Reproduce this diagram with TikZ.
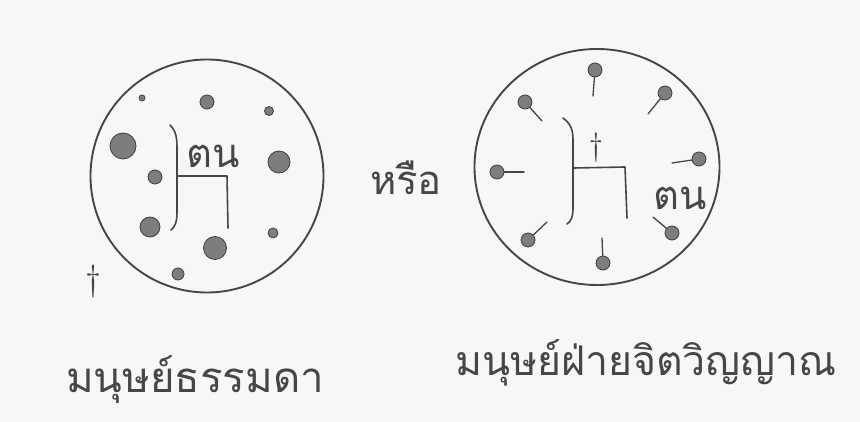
\documentclass[tikz,border=0pt]{standalone}
\usepackage{fontspec}
\usetikzlibrary{shapes.geometric}
\newfontfamily\thaifont[Script=Thai]{Loma}
\newfontfamily\dagfont{Latin Modern Roman}
\definecolor{paper}{RGB}{247,247,245}
\definecolor{ink}{RGB}{70,70,70}
\definecolor{dotfill}{RGB}{125,125,125}
\tikzset{
  ring/.style={draw=ink, line width=1.9pt},
  ball/.style={circle, draw=ink!90!black, line width=0.8pt, fill=dotfill, inner sep=0pt, minimum size=#1},
  ball/.default=12pt,
  stroke/.style={draw=ink, line width=1.6pt, line cap=round, line join=round},
  stick/.style={draw=ink, line width=1.3pt, line cap=round},
  thai/.style={font=\thaifont\fontsize{#1}{#1}\selectfont, text=ink, inner sep=0pt, anchor=base},
  dagger/.style={font=\dagfont\fontsize{#1}{#1}\selectfont, text=ink, inner sep=0pt}
}
\begin{document}
\begin{tikzpicture}[x=1pt,y=-1pt]
\path[fill=paper] (0,0) rectangle (860,422);
\useasboundingbox (0,0) rectangle (860,422);

% ---------- left circle ----------
\node[circle, ring, minimum size=233pt, inner sep=0pt] (lc) at (207,176) {};
\node[ball=6pt] (l1) at (142,98) {};
\node[ball=14pt] (l2) at (207,102) {};
\node[ball=9pt] (l3) at (269,111) {};
\node[ball=26pt] (l4) at (123,146) {};
\node[ball=14pt] (l5) at (155,177) {};
\node[ball=20pt] (l6) at (150,227) {};
\node[ball=23pt] (l7) at (215,248) {};
\node[ball=22pt] (l8) at (279,162) {};
\node[ball=10pt] (l9) at (273,233) {};
\node[ball=12pt] (l10) at (178,274) {};
% figure
\coordinate (lb1) at (170,125);
\coordinate (lb2) at (177,176);
\coordinate (lb3) at (171,230);
\coordinate (lh) at (227,176);
\coordinate (lf) at (228,228);
\draw[stroke] (lb1) .. controls (177,132) and (177,140) .. (177,150) -- (177,212) .. controls (177,222) and (175,227) .. (lb3);
\draw[stroke] (lb2) -- (lh) -- (lf);
\node[thai=40pt] (lt) at (213,168) {ตน};
\node[dagger=36pt] (ld) at (93,282) {†};

% ---------- or ----------
\node[thai=40pt] (or) at (406,195) {หรือ};

% ---------- right circle ----------
\node[ellipse, ring, minimum width=245pt, minimum height=236pt, inner sep=0pt] (rc) at (597,167) {};
% pins
\node[ball=14pt] (p1) at (595,70) {};   \coordinate (q1) at (593,96);
\node[ball=14pt] (p2) at (665,93) {};   \coordinate (q2) at (648,114);
\node[ball=14pt] (p3) at (525,102) {};  \coordinate (q3) at (542,121);
\node[ball=14pt] (p4) at (497,172) {};  \coordinate (q4) at (524,172);
\node[ball=14pt] (p5) at (699,159) {};  \coordinate (q5) at (672,163);
\node[ball=14pt] (p6) at (672,233) {};  \coordinate (q6) at (653,217);
\node[ball=14pt] (p7) at (528,240) {};  \coordinate (q7) at (547,222);
\node[ball=14pt] (p8) at (603,263) {};  \coordinate (q8) at (602,238);
\foreach \i in {1,...,8} { \draw[stick] (q\i) -- (p\i); }
% figure
\coordinate (rb1) at (563,118);
\coordinate (rb2) at (574,168);
\coordinate (rb3) at (567,224);
\coordinate (rh) at (625,167);
\coordinate (rf) at (627,218);
\draw[stroke] (rb1) .. controls (571,124) and (573,130) .. (573,140) -- (573,208) .. controls (573,218) and (571,221) .. (rb3);
\draw[stroke] (rb2) -- (rh) -- (rf);
\node[dagger=32pt] (rd) at (596,148) {†};
\node[thai=40pt] (rt) at (680,210) {ตน};

% ---------- labels ----------
\node[thai=42pt] (ll) at (195,392) {มนุษย์ธรรมดา};
\node[thai=41pt] (rl) at (646,375) {มนุษย์ฝ่ายจิตวิญญาณ};
\end{tikzpicture}
\end{document}
